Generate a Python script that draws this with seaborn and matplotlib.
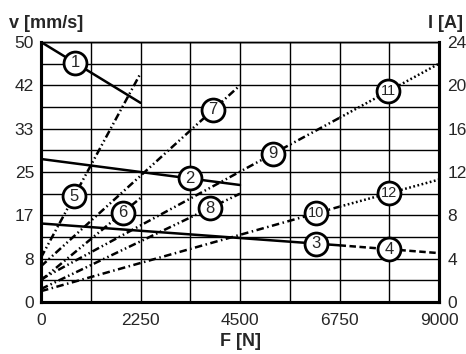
import numpy as np
import matplotlib
matplotlib.use("Agg")
import matplotlib.pyplot as plt
import seaborn as sns

# speed curves, v [mm/s] over force F [N]
f_1 = [0, 2250]
v_1 = [50.0, 38.3]
f_2 = [0, 4500]
v_2 = [27.5, 22.5]
f_3 = [0, 6750]
v_3 = [15.1, 10.9]
f_4 = [6750, 9000]
v_4 = [10.9, 9.4]

# current curves, I [A] over force F [N]
f_5 = [0, 2250]
i_5 = [4.1, 21.1]
f_6 = [0, 2250]
i_6 = [2.0, 9.6]
f_7 = [0, 4500]
i_7 = [3.3, 20.0]
f_8 = [0, 4500]
i_8 = [1.2, 10.0]
f_9 = [0, 6750]
i_9 = [2.1, 17.0]
f_10 = [0, 6750]
i_10 = [1.0, 8.8]
f_11 = [6750, 9000]
i_11 = [17.0, 22.0]
f_12 = [6750, 9000]
i_12 = [8.8, 11.3]

f_ticks = [0, 2250, 4500, 6750, 9000]
v_labels = ['0', '8', '17', '25', '33', '42', '50']
i_labels = ['0', '4', '8', '12', '16', '20', '24']

# where the number circles sit along each curve (force value)
label_f = {1: 770, 2: 3370, 3: 6220, 4: 7870, 5: 750, 6: 1850,
           7: 3890, 8: 3820, 9: 5240, 10: 6220, 11: 7850, 12: 7870}

sns.set_style("white")
plt.rcParams['font.family'] = ['Liberation Sans', 'DejaVu Sans']

fig = plt.figure(figsize=(4.66, 3.54), dpi=100)
ax = fig.add_axes([41 / 466, 1 - 302 / 354, 398 / 466, 260 / 354])
ax2 = ax.twinx()

lw = 1.8
dd = (0, (3.0, 1.2, 0.6, 1.2, 0.6, 1.2))
dash_dot = (0, (3.0, 1.4, 0.6, 1.4))
dotted = (0, (0.7, 1.0))

speed = [(f_1, v_1, '-'), (f_2, v_2, '-'), (f_3, v_3, '-'), (f_4, v_4, (0, (2.6, 1.4)))]
for f, v, ls in speed:
    sns.lineplot(x=f, y=v, ax=ax, color='black', lw=lw, linestyle=ls)

current = [(f_5, i_5, dd), (f_6, i_6, dd), (f_7, i_7, dd), (f_8, i_8, dd),
           (f_9, i_9, dd), (f_10, i_10, dash_dot), (f_11, i_11, dotted),
           (f_12, i_12, dotted)]
for f, i, ls in current:
    sns.lineplot(x=f, y=i, ax=ax2, color='black', lw=lw, linestyle=ls)

# number circles, all drawn on the current axis
curves = {1: (f_1, np.array(v_1) * 24 / 50), 2: (f_2, np.array(v_2) * 24 / 50),
          3: (f_3, np.array(v_3) * 24 / 50), 4: (f_4, np.array(v_4) * 24 / 50),
          5: (f_5, i_5), 6: (f_6, i_6), 7: (f_7, i_7), 8: (f_8, i_8),
          9: (f_9, i_9), 10: (f_10, i_10), 11: (f_11, i_11), 12: (f_12, i_12)}
for n, (f, y) in curves.items():
    x0 = label_f[n]
    y0 = np.interp(x0, f, y)
    ax2.plot(x0, y0, 'o', ms=16.5, mfc='white', mec='black', mew=2.0, zorder=6)
    ax2.text(x0, y0, str(n), ha='center', va='center', zorder=7,
             fontsize=12 if n < 10 else 10.5)

ax.set_xlim(0, 9000)
ax.set_ylim(0, 50)
ax2.set_ylim(0, 24)
ax.set_xticks(f_ticks)
ax.set_xticks(np.arange(0, 9001, 1125), minor=True)
ax.set_yticks(np.linspace(0, 50, 7))
ax.set_yticks(np.linspace(0, 50, 13), minor=True)
ax.set_yticklabels(v_labels)
ax2.set_yticks(np.linspace(0, 24, 7))
ax2.set_yticklabels(i_labels)
ax.grid(True, which='both', color='black', lw=1.0)
ax.set_axisbelow(True)
ax.tick_params(axis='y', which='both', length=0, labelsize=12.5, pad=5)
ax.tick_params(axis='x', which='both', length=0, labelsize=12.5, pad=8)
ax2.tick_params(axis='y', length=0, labelsize=12.5, pad=6)
ax.set_xlabel('')
ax.set_ylabel('')
ax2.set_ylabel('')

for a in (ax, ax2):
    for side in ('left', 'right', 'bottom'):
        a.spines[side].set_linewidth(2.2)
        a.spines[side].set_color('black')
    a.spines['top'].set_linewidth(1.0)
    a.spines['top'].set_color('black')

fig.text(9 / 466, 1 - 24 / 354, 'v [mm/s]', fontsize=13, fontweight='bold', va='center')
fig.text(463 / 466, 1 - 24 / 354, 'I [A]', fontsize=13, fontweight='bold', va='center', ha='right')
fig.text(241 / 466, 1 - 342 / 354, 'F [N]', fontsize=13, fontweight='bold', va='center', ha='center')

fig.savefig('out.png', dpi=100)
